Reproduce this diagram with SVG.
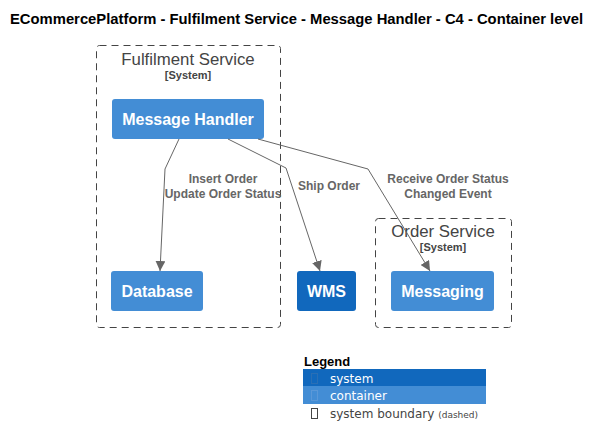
<svg xmlns="http://www.w3.org/2000/svg" width="598" height="448" viewBox="0 0 598 448">
<style>
.title{font-family:"Liberation Sans",Arial,sans-serif;font-weight:bold;font-size:14.5px;fill:#000}
.bname{font-family:"Liberation Sans",Arial,sans-serif;font-size:16.8px;fill:#444}
.btype{font-family:"Liberation Sans",Arial,sans-serif;font-size:11px;font-weight:bold;fill:#444}
.bnd{fill:none;stroke:#444;stroke-width:1;stroke-dasharray:7,5}
.node{stroke:none}
.ntext{font-family:"Liberation Sans",Arial,sans-serif;font-size:16px;font-weight:bold;fill:#fff}
.edge{fill:none;stroke:#666;stroke-width:1}
.elabel{font-family:"Liberation Sans",Arial,sans-serif;font-size:12px;font-weight:bold;fill:#666}
.leg{font-family:"DejaVu Sans",Verdana,sans-serif;font-size:12px}
</style>
<defs>
<marker id="arr" viewBox="0 0 10 10" refX="10" refY="5" markerWidth="10" markerHeight="10" markerUnits="userSpaceOnUse" orient="auto">
<path d="M0,0 L10,5 L0,10 z" fill="#666"/>
</marker>
</defs>
<rect width="598" height="448" fill="#fff"/>
<text class="title" x="296.5" y="24" text-anchor="middle" textLength="573" lengthAdjust="spacingAndGlyphs">ECommercePlatform - Fulfilment Service - Message Handler - C4 - Container level</text>

<g id="fulfilment-service">
<rect class="bnd" x="96.5" y="45.5" width="184" height="282" rx="3"/>
<text class="bname" x="188" y="65" text-anchor="middle">Fulfilment Service</text>
<text class="btype" x="188" y="79" text-anchor="middle">[System]</text>
</g>
<g id="order-service">
<rect class="bnd" x="375.5" y="218.5" width="136" height="109" rx="3"/>
<text class="bname" x="443" y="237" text-anchor="middle">Order Service</text>
<text class="btype" x="443" y="251" text-anchor="middle">[System]</text>
</g>

<g id="message-handler">
<rect class="node" x="112" y="99" width="152" height="40" rx="3" fill="#438DD5"/>
<text class="ntext" x="188" y="125" text-anchor="middle">Message Handler</text>
</g>
<g id="database">
<rect class="node" x="111" y="271" width="92" height="40" rx="3" fill="#438DD5"/>
<text class="ntext" x="157" y="297" text-anchor="middle">Database</text>
</g>
<g id="wms">
<rect class="node" x="297" y="271" width="59" height="40" rx="3" fill="#1168BD"/>
<text class="ntext" x="326.5" y="297" text-anchor="middle">WMS</text>
</g>
<g id="messaging">
<rect class="node" x="391" y="271" width="103" height="40" rx="3" fill="#438DD5"/>
<text class="ntext" x="442.5" y="297" text-anchor="middle">Messaging</text>
</g>

<g id="connectors">
<path class="edge" d="M179,139 L165,169 L160,271" marker-end="url(#arr)"/>
<text class="elabel" x="223" y="183" text-anchor="middle">Insert Order</text>
<text class="elabel" x="223" y="198" text-anchor="middle">Update Order Status</text>
<path class="edge" d="M228,139 L286,168 L320,271" marker-end="url(#arr)"/>
<text class="elabel" x="329" y="190" text-anchor="middle">Ship Order</text>
<path class="edge" d="M258,139 L368,169 L430,271" marker-end="url(#arr)"/>
<text class="elabel" x="448" y="183" text-anchor="middle">Receive Order Status</text>
<text class="elabel" x="448" y="198" text-anchor="middle">Changed Event</text>
</g>

<g id="legend">
<text x="304" y="366" font-family="Liberation Sans,Arial,sans-serif" font-weight="bold" font-size="13" fill="#000">Legend</text>
<rect x="303" y="369" width="183" height="17" fill="#1168BD"/>
<rect x="303" y="386" width="183" height="18" fill="#438DD5"/>
<rect x="311.5" y="373.5" width="6" height="10" fill="none" stroke="#2a6fb5" stroke-width="1"/>
<rect x="311.5" y="390.5" width="6" height="10" fill="none" stroke="#5a98d8" stroke-width="1"/>
<rect x="311.5" y="408.5" width="6" height="10" fill="none" stroke="#444" stroke-width="1"/>
<text class="leg" x="330" y="383" fill="#fff">system</text>
<text class="leg" x="330" y="400" fill="#fff">container</text>
<text class="leg" x="330" y="418" fill="#444">system boundary <tspan font-size="9">(dashed)</tspan></text>
</g>
</svg>
